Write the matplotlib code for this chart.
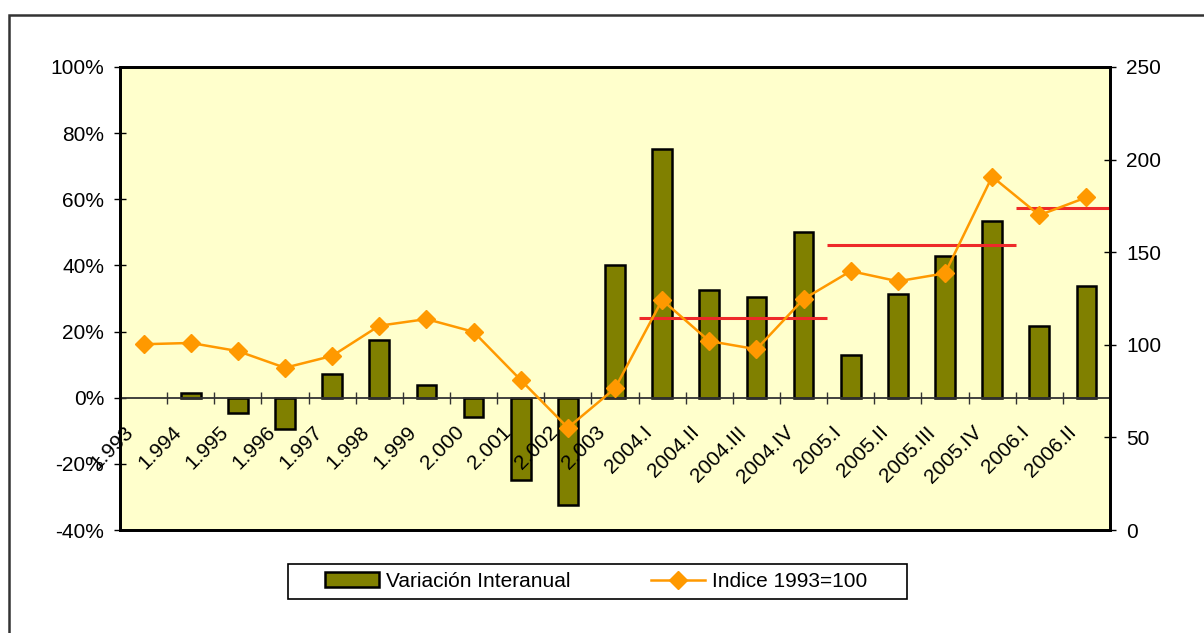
import matplotlib
matplotlib.use('Agg')
from matplotlib import pyplot as plt
from matplotlib import transforms
from matplotlib.patches import Rectangle, Patch
from matplotlib.lines import Line2D
from matplotlib.ticker import FuncFormatter, MultipleLocator

#-------------------------------------------------

periods = ['1.993', '1.994', '1.995', '1.996', '1.997', '1.998', '1.999',
           '2.000', '2.001', '2.002', '2.003',
           '2004.I', '2004.II', '2004.III', '2004.IV',
           '2005.I', '2005.II', '2005.III', '2005.IV',
           '2006.I', '2006.II']

### year on year change (%), left axis -- base year has no value
variacion = [float('nan'), 1.5, -4.5, -9.5, 7.2, 17.5, 3.7,
             -5.7, -25.0, -32.4, 40.0,
             75.3, 32.7, 30.5, 50.0,
             13.0, 31.5, 42.7, 53.3,
             21.8, 33.9]

### index 1993=100, right axis
indice = [100.3, 101.0, 96.6, 87.6, 94.0, 110.3, 113.9,
          107.0, 81.0, 55.2, 76.5,
          124.2, 102.0, 97.6, 124.7,
          139.8, 134.3, 138.6, 190.8,
          170.0, 179.6]

### yearly averages of the index (red segments): first / last period, value
avg_first = ['2004.I', '2005.I', '2006.I']
avg_last  = ['2004.IV', '2005.IV', '2006.II']
avg_value = [114.4, 153.7, 173.7]

#-------------------------------------------------

plt.rcParams['font.family'] = ['Liberation Sans', 'DejaVu Sans']
FS = 15

W, H = 1204, 633
fig = plt.figure(figsize=(W/100., H/100.), dpi=100)
fig.patch.set_facecolor('white')

L, R, T, B = 120, 1110, 67, 530
ax = fig.add_axes([L/float(W), 1-B/float(H), (R-L)/float(W), (B-T)/float(H)])
ax.set_facecolor('#FFFFCC')
ax2 = ax.twinx()

x = list(range(len(periods)))

ax.bar(x, variacion, width=0.42, color='#808000', edgecolor='black',
       linewidth=1.8, zorder=3)
ax.axhline(0, color='#333333', lw=1.3, zorder=4)
ax.plot([i+0.5 for i in x[:-1]], [0]*(len(x)-1), ls='none', marker='|',
        ms=9, mew=1.0, color='#333333', zorder=4)

ax.set_xlim(-0.5, len(periods)-0.5)
ax.set_ylim(-40, 100)
ax.yaxis.set_major_locator(MultipleLocator(20))
ax.yaxis.set_major_formatter(FuncFormatter(lambda v, p: '%d%%' % round(v)))
ax.set_xticks([])

ax2.set_ylim(0, 250)
ax2.yaxis.set_major_locator(MultipleLocator(50))

for s in ax.spines.values():
    s.set_linewidth(2)
for s in ax2.spines.values():
    s.set_linewidth(2)

ax.tick_params(axis='y', direction='inout', length=9, width=1, pad=7,
               labelsize=FS, colors='black')
ax2.tick_params(axis='y', direction='inout', length=9, width=1, pad=7,
                labelsize=FS, colors='black')

### category labels below the zero line
off = transforms.offset_copy(ax.transData, fig=fig, x=-6, y=-25, units='dots')
for i, lab in enumerate(periods):
    ax.text(i, 0, lab, transform=off, rotation=45, ha='right', va='top',
            fontsize=FS, zorder=5)

### yearly average segments
for a, b, v in zip(avg_first, avg_last, avg_value):
    ax2.hlines(v, periods.index(a)-0.5, periods.index(b)+0.5,
               color='#EE2A2A', lw=2.2, zorder=2)

ax2.plot(x, indice, color='#FF9900', lw=1.8, marker='D', ms=9,
         mfc='#FF9900', mec='#FF9900', zorder=3)

#-------------------------------------------------

### outer chart frame
fig.add_artist(Rectangle((8.5/W, -0.1), 1.2, 1.1-14.5/H, transform=fig.transFigure,
                         fill=False, edgecolor='#333333', lw=1.8))

### legend
fig.add_artist(Rectangle((288./W, 1-599./H), (907.-288)/W, (599.-564)/H,
                         transform=fig.transFigure, fill=False,
                         edgecolor='black', lw=1.2))
handles = [Patch(facecolor='#808000', edgecolor='black', lw=1.8),
           Line2D([], [], color='#FF9900', lw=1.8, marker='D', ms=9)]
fig.legend(handles, ['Variación Interanual', 'Indice 1993=100'],
           loc='center', bbox_to_anchor=(596./W, 1-581.5/H), ncol=2,
           frameon=False, fontsize=FS, handlelength=2.6, handleheight=0.75,
           handletextpad=0.3, columnspacing=3.9)

fig.savefig('out.png', dpi=100)
plt.close(fig)
